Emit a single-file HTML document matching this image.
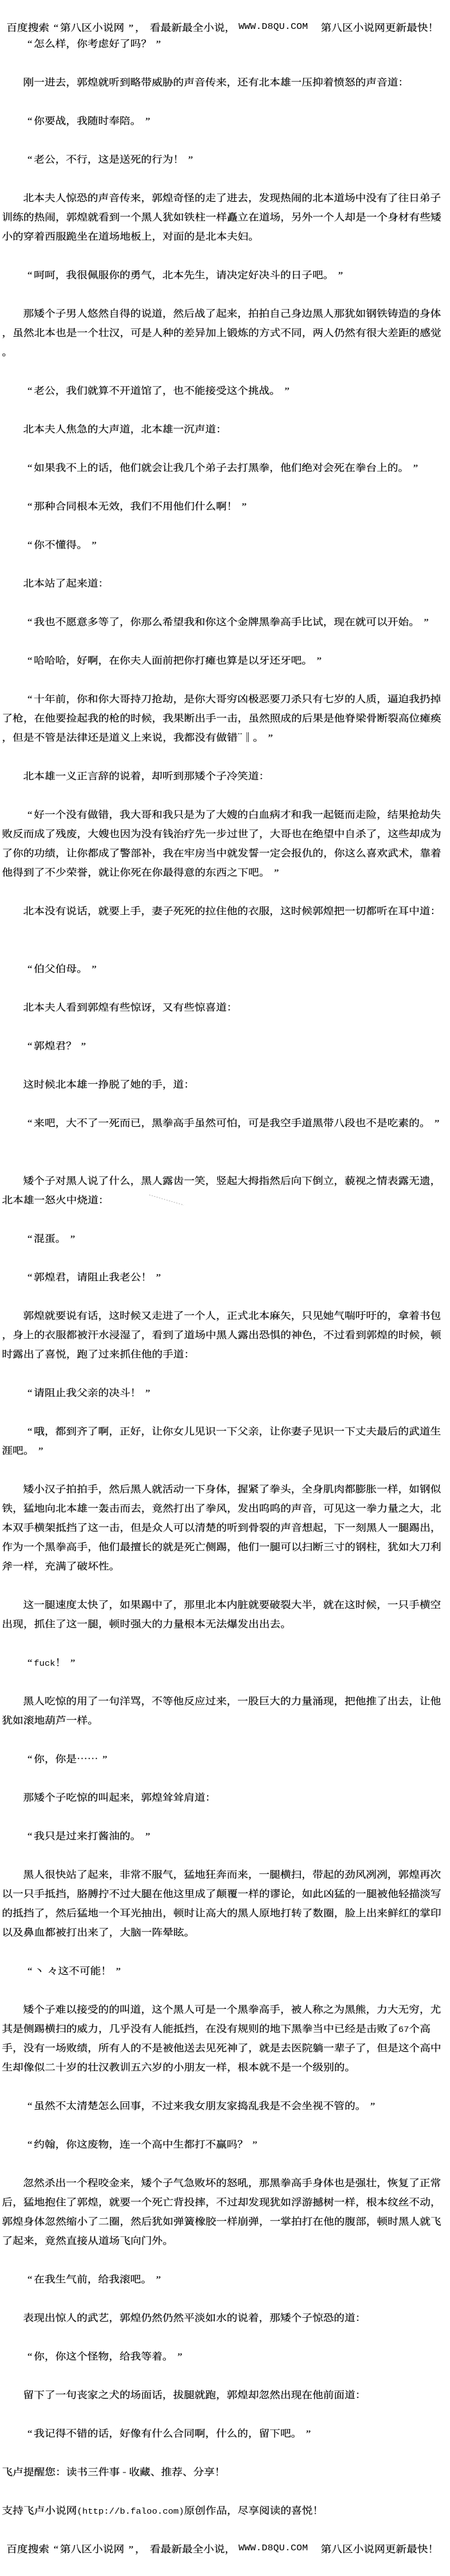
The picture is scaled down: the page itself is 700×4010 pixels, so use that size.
<!DOCTYPE html>
<html lang="zh">
<head>
<meta charset="utf-8">
<title>第八区小说网</title>
<style>
html,body{margin:0;padding:0;background:#fff}
body{position:relative;width:700px;height:4010px;overflow:hidden}
.l{position:absolute;left:3px;height:30px;white-space:nowrap;color:#000;font:400 15px/30px "Noto Serif CJK SC","Liberation Serif",serif;transform:scaleX(1.111);transform-origin:0 0;-webkit-text-stroke:.2px #000}
.b{left:36px}
i{font:normal 15px/30px "Liberation Serif",serif;display:inline-block;width:1em;text-align:right;padding-right:.15em;box-sizing:border-box}
.m{font:13.5px/30px "Liberation Mono",monospace;-webkit-text-stroke:0}
.n{font:12.5px/30px "Liberation Mono",monospace;-webkit-text-stroke:0}
svg{position:absolute;left:0;top:0}
</style>
</head>
<body>
<div class="l" style="left:10px;top:28px">百度搜索<i>“</i>第八区小说网<i>”</i>，</div>
<div class="l" style="left:233px;top:28px">看最新最全小说，</div>
<div class="l m" style="left:371px;top:28px">WWW.D8QU.COM</div>
<div class="l" style="left:499px;top:28px">第八区小说网更新最快！</div>
<div class="l b" style="top:53px"><i>“</i>怎么样，你考虑好了吗？<i>”</i></div>
<div class="l b" style="top:113px">刚一进去，郭煌就听到略带威胁的声音传来，还有北本雄一压抑着愤怒的声音道：</div>
<div class="l b" style="top:173px"><i>“</i>你要战，我随时奉陪。<i>”</i></div>
<div class="l b" style="top:233px"><i>“</i>老公，不行，这是送死的行为！<i>”</i></div>
<div class="l b" style="top:293px">北本夫人惊恐的声音传来，郭煌奇怪的走了进去，发现热闹的北本道场中没有了往日弟子</div>
<div class="l" style="top:323px">训练的热闹，郭煌就看到一个黑人犹如铁柱一样矗立在道场，另外一个人却是一个身材有些矮</div>
<div class="l" style="top:353px">小的穿着西服跪坐在道场地板上，对面的是北本夫妇。</div>
<div class="l b" style="top:413px"><i>“</i>呵呵，我很佩服你的勇气，北本先生，请决定好决斗的日子吧。<i>”</i></div>
<div class="l b" style="top:473px">那矮个子男人悠然自得的说道，然后战了起来，拍拍自己身边黑人那犹如钢铁铸造的身体</div>
<div class="l" style="top:503px">，虽然北本也是一个壮汉，可是人种的差异加上锻炼的方式不同，两人仍然有很大差距的感觉</div>
<div class="l" style="top:533px">。</div>
<div class="l b" style="top:593px"><i>“</i>老公，我们就算不开道馆了，也不能接受这个挑战。<i>”</i></div>
<div class="l b" style="top:653px">北本夫人焦急的大声道，北本雄一沉声道：</div>
<div class="l b" style="top:713px"><i>“</i>如果我不上的话，他们就会让我几个弟子去打黑拳，他们绝对会死在拳台上的。<i>”</i></div>
<div class="l b" style="top:773px"><i>“</i>那种合同根本无效，我们不用他们什么啊！<i>”</i></div>
<div class="l b" style="top:833px"><i>“</i>你不懂得。<i>”</i></div>
<div class="l b" style="top:893px">北本站了起来道：</div>
<div class="l b" style="top:953px"><i>“</i>我也不愿意多等了，你那么希望我和你这个金牌黑拳高手比试，现在就可以开始。<i>”</i></div>
<div class="l b" style="top:1013px"><i>“</i>哈哈哈，好啊，在你夫人面前把你打瘫也算是以牙还牙吧。<i>”</i></div>
<div class="l b" style="top:1073px"><i>“</i>十年前，你和你大哥持刀抢劫，是你大哥穷凶极恶要刀杀只有七岁的人质，逼迫我扔掉</div>
<div class="l" style="top:1103px">了枪，在他要捡起我的枪的时候，我果断出手一击，虽然照成的后果是他脊梁骨断裂高位瘫痪</div>
<div class="l" style="top:1133px">，但是不管是法律还是道义上来说，我都没有做错¨‖。<i>”</i></div>
<div class="l b" style="top:1193px">北本雄一义正言辞的说着，却听到那矮个子冷笑道：</div>
<div class="l b" style="top:1253px"><i>“</i>好一个没有做错，我大哥和我只是为了大嫂的白血病才和我一起铤而走险，结果抢劫失</div>
<div class="l" style="top:1283px">败反而成了残废，大嫂也因为没有钱治疗先一步过世了，大哥也在绝望中自杀了，这些却成为</div>
<div class="l" style="top:1313px">了你的功绩，让你都成了警部补，我在牢房当中就发誓一定会报仇的，你这么喜欢武术，靠着</div>
<div class="l" style="top:1343px">他得到了不少荣誉，就让你死在你最得意的东西之下吧。<i>”</i></div>
<div class="l b" style="top:1403px">北本没有说话，就要上手，妻子死死的拉住他的衣服，这时候郭煌把一切都听在耳中道：</div>
<div class="l b" style="top:1493px"><i>“</i>伯父伯母。<i>”</i></div>
<div class="l b" style="top:1553px">北本夫人看到郭煌有些惊讶，又有些惊喜道：</div>
<div class="l b" style="top:1613px"><i>“</i>郭煌君？<i>”</i></div>
<div class="l b" style="top:1673px">这时候北本雄一挣脱了她的手，道：</div>
<div class="l b" style="top:1733px"><i>“</i>来吧，大不了一死而已，黑拳高手虽然可怕，可是我空手道黑带八段也不是吃素的。<i>”</i></div>
<div class="l b" style="top:1823px">矮个子对黑人说了什么，黑人露齿一笑，竖起大拇指然后向下倒立，藐视之情表露无遗，</div>
<div class="l" style="top:1853px">北本雄一怒火中烧道：</div>
<div class="l b" style="top:1913px"><i>“</i>混蛋。<i>”</i></div>
<div class="l b" style="top:1973px"><i>“</i>郭煌君，请阻止我老公！<i>”</i></div>
<div class="l b" style="top:2033px">郭煌就要说有话，这时候又走进了一个人，正式北本麻矢，只见她气喘吁吁的，拿着书包</div>
<div class="l" style="top:2063px">，身上的衣服都被汗水浸湿了，看到了道场中黑人露出恐惧的神色，不过看到郭煌的时候，顿</div>
<div class="l" style="top:2093px">时露出了喜悦，跑了过来抓住他的手道：</div>
<div class="l b" style="top:2153px"><i>“</i>请阻止我父亲的决斗！<i>”</i></div>
<div class="l b" style="top:2213px"><i>“</i>哦，都到齐了啊，正好，让你女儿见识一下父亲，让你妻子见识一下丈夫最后的武道生</div>
<div class="l" style="top:2243px">涯吧。<i>”</i></div>
<div class="l b" style="top:2303px">矮小汉子拍拍手，然后黑人就活动一下身体，握紧了拳头，全身肌肉都膨胀一样，如钢似</div>
<div class="l" style="top:2333px">铁，猛地向北本雄一轰击而去，竟然打出了拳风，发出呜呜的声音，可见这一拳力量之大，北</div>
<div class="l" style="top:2363px">本双手横架抵挡了这一击，但是众人可以清楚的听到骨裂的声音想起，下一刻黑人一腿踢出，</div>
<div class="l" style="top:2393px">作为一个黑拳高手，他们最擅长的就是死亡侧踢，他们一腿可以扫断三寸的钢柱，犹如大刀利</div>
<div class="l" style="top:2423px">斧一样，充满了破坏性。</div>
<div class="l b" style="top:2483px">这一腿速度太快了，如果踢中了，那里北本内脏就要破裂大半，就在这时候，一只手横空</div>
<div class="l" style="top:2513px">出现，抓住了这一腿，顿时强大的力量根本无法爆发出出去。</div>
<div class="l b" style="top:2573px"><i>“</i><span class="n">fuck</span>！<i>”</i></div>
<div class="l b" style="top:2633px">黑人吃惊的用了一句洋骂，不等他反应过来，一股巨大的力量涌现，把他推了出去，让他</div>
<div class="l" style="top:2663px">犹如滚地葫芦一样。</div>
<div class="l b" style="top:2723px"><i>“</i>你，你是……<i>”</i></div>
<div class="l b" style="top:2783px">那矮个子吃惊的叫起来，郭煌耸耸肩道：</div>
<div class="l b" style="top:2843px"><i>“</i>我只是过来打酱油的。<i>”</i></div>
<div class="l b" style="top:2903px">黑人很快站了起来，非常不服气，猛地狂奔而来，一腿横扫，带起的劲风冽冽，郭煌再次</div>
<div class="l" style="top:2933px">以一只手抵挡，胳膊拧不过大腿在他这里成了颠覆一样的谬论，如此凶猛的一腿被他轻描淡写</div>
<div class="l" style="top:2963px">的抵挡了，然后猛地一个耳光抽出，顿时让高大的黑人原地打转了数圈，脸上出来鲜红的掌印</div>
<div class="l" style="top:2993px">以及鼻血都被打出来了，大脑一阵晕眩。</div>
<div class="l b" style="top:3053px"><i>“</i>丶 々这不可能！<i>”</i></div>
<div class="l b" style="top:3113px">矮个子难以接受的的叫道，这个黑人可是一个黑拳高手，被人称之为黑熊，力大无穷，尤</div>
<div class="l" style="top:3143px">其是侧踢横扫的威力，几乎没有人能抵挡，在没有规则的地下黑拳当中已经是击败了<span class="n">67</span>个高</div>
<div class="l" style="top:3173px">手，没有一场败绩，所有人的不是被他送去见死神了，就是去医院躺一辈子了，但是这个高中</div>
<div class="l" style="top:3203px">生却像似二十岁的壮汉教训五六岁的小朋友一样，根本就不是一个级别的。</div>
<div class="l b" style="top:3263px"><i>“</i>虽然不太清楚怎么回事，不过来我女朋友家捣乱我是不会坐视不管的。<i>”</i></div>
<div class="l b" style="top:3323px"><i>“</i>约翰，你这废物，连一个高中生都打不赢吗？<i>”</i></div>
<div class="l b" style="top:3383px">忽然杀出一个程咬金来，矮个子气急败坏的怒吼，那黑拳高手身体也是强壮，恢复了正常</div>
<div class="l" style="top:3413px">后，猛地抱住了郭煌，就要一个死亡背投摔，不过却发现犹如浮游撼树一样，根本纹丝不动，</div>
<div class="l" style="top:3443px">郭煌身体忽然缩小了二圈，然后犹如弹簧橡胶一样崩弹，一掌拍打在他的腹部，顿时黑人就飞</div>
<div class="l" style="top:3473px">了起来，竟然直接从道场飞向门外。</div>
<div class="l b" style="top:3533px"><i>“</i>在我生气前，给我滚吧。<i>”</i></div>
<div class="l b" style="top:3593px">表现出惊人的武艺，郭煌仍然仍然平淡如水的说着，那矮个子惊恐的道：</div>
<div class="l b" style="top:3653px"><i>“</i>你，你这个怪物，给我等着。<i>”</i></div>
<div class="l b" style="top:3713px">留下了一句丧家之犬的场面话，拔腿就跑，郭煌却忽然出现在他前面道：</div>
<div class="l b" style="top:3773px"><i>“</i>我记得不错的话，好像有什么合同啊，什么的，留下吧。<i>”</i></div>
<div class="l" style="top:3833px">飞卢提醒您：读书三件事 - 收藏、推荐、分享！</div>
<div class="l" style="top:3893px">支持飞卢小说网<span class="n">(http://b.faloo.com)</span>原创作品，尽享阅读的喜悦！</div>
<div class="l" style="left:10px;top:3953px">百度搜索<i>“</i>第八区小说网<i>”</i>，</div>
<div class="l" style="left:233px;top:3953px">看最新最全小说，</div>
<div class="l m" style="left:371px;top:3953px">WWW.D8QU.COM</div>
<div class="l" style="left:499px;top:3953px">第八区小说网更新最快！</div>
<svg width="700" height="4010" viewBox="0 0 700 4010" fill="none" stroke="#b5b5b5" stroke-width="1" stroke-dasharray="2 2">
<path d="M282 1742 L318 1754"/>
<path d="M232 1860 L286 1876"/>
<path d="M218 1842 L226 1846"/>
</svg>
</body>
</html>
